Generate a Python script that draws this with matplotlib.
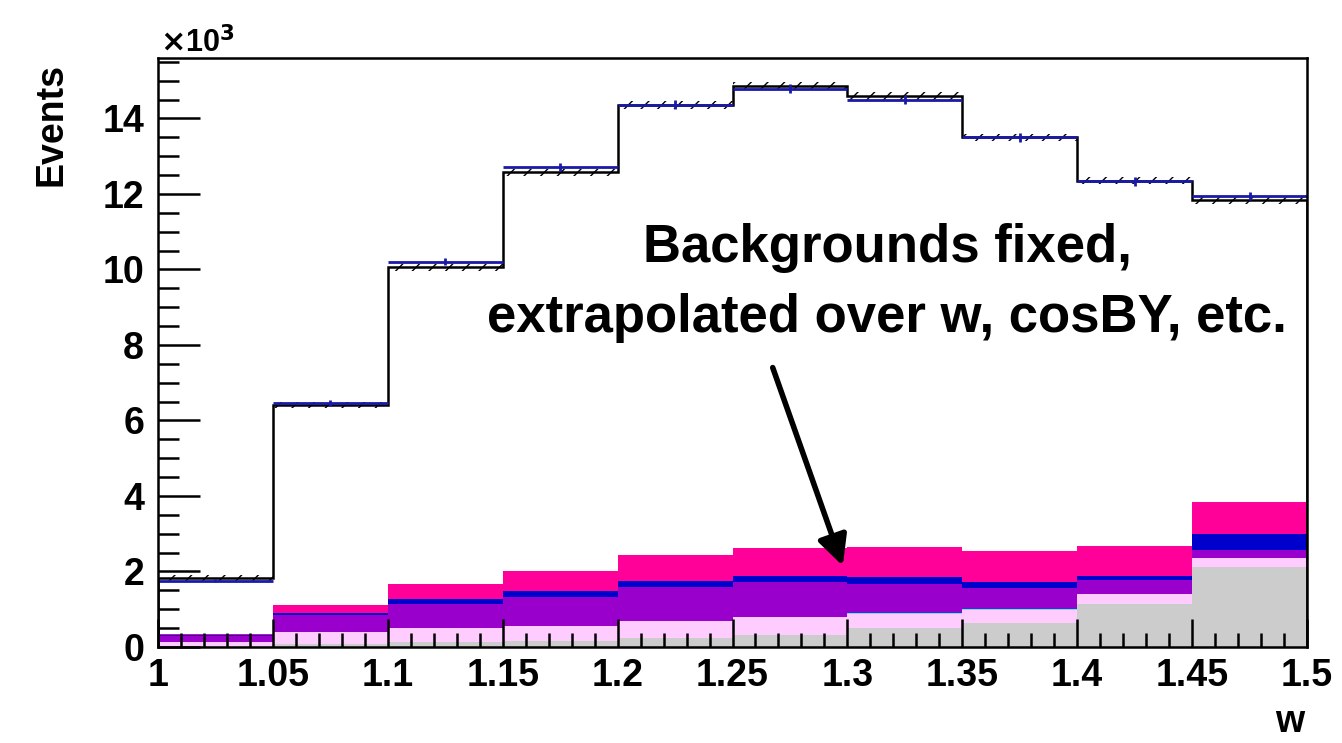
import matplotlib
matplotlib.use("Agg")
import matplotlib.pyplot as plt
from matplotlib.ticker import MultipleLocator, FuncFormatter
import numpy as np

# bin edges in w
edges = [1.0, 1.05, 1.1, 1.15, 1.2, 1.25, 1.3, 1.35, 1.4, 1.45, 1.5]

# all values in units of 10^3 events
mc_total = [1.82, 6.42, 10.06, 12.57, 14.35, 14.86, 14.6, 13.5, 12.35, 11.83]
data = [1.76, 6.45, 10.21, 12.71, 14.36, 14.78, 14.49, 13.5, 12.33, 11.94]
data_err = [0.04, 0.08, 0.1, 0.11, 0.12, 0.12, 0.12, 0.12, 0.11, 0.11]
mc_band = [0.08, 0.08, 0.09, 0.09, 0.1, 0.1, 0.1, 0.1, 0.09, 0.09]

# background components, bottom to top of the stack
bkg_gray = [0.03, 0.09, 0.14, 0.15, 0.25, 0.33, 0.49, 0.63, 1.13, 2.12]
bkg_lightpink = [0.11, 0.32, 0.37, 0.41, 0.44, 0.47, 0.38, 0.35, 0.27, 0.25]
bkg_cyan = [0.0, 0.0, 0.0, 0.0, 0.0, 0.0, 0.02, 0.02, 0.0, 0.0]
bkg_purple = [0.15, 0.44, 0.63, 0.77, 0.91, 0.93, 0.79, 0.55, 0.37, 0.2]
bkg_blue = [0.02, 0.06, 0.13, 0.15, 0.15, 0.16, 0.18, 0.18, 0.12, 0.42]
bkg_hotpink = [0.03, 0.2, 0.41, 0.52, 0.68, 0.72, 0.79, 0.81, 0.78, 0.84]

stack = [
    (bkg_gray, "#cccccc"),
    (bkg_lightpink, "#ffccff"),
    (bkg_cyan, "#33ffff"),
    (bkg_purple, "#9900cc"),
    (bkg_blue, "#0000cc"),
    (bkg_hotpink, "#ff0099"),
]

plt.rcParams["font.family"] = ["Liberation Sans", "DejaVu Sans"]
plt.rcParams["font.weight"] = "bold"
plt.rcParams["hatch.linewidth"] = 1.0

fig = plt.figure(figsize=(13.42, 7.43), dpi=100)
ax = fig.add_axes([158 / 1342, 1 - 647 / 743, 1149 / 1342, 589 / 743])

edges = np.array(edges)
centers = 0.5 * (edges[:-1] + edges[1:])
halfw = 0.5 * np.diff(edges)

# stacked backgrounds
bottom = np.zeros(len(centers))
for vals, col in stack:
    top = bottom + np.array(vals)
    ax.stairs(top, edges, baseline=bottom, fill=True, color=col, lw=0)
    bottom = top

# MC total with hatched band
mc = np.array(mc_total)
band = np.array(mc_band)
ax.stairs(mc + band, edges, baseline=mc - band, fill=True, facecolor="none",
          edgecolor="black", hatch="//", lw=0)
ax.stairs(mc, edges, color="black", lw=1.8, baseline=0)

# data points
ax.errorbar(centers, data, xerr=halfw, yerr=data_err, fmt="none",
            ecolor="#1a1aa8", elinewidth=2, capsize=0)

ax.set_xlim(1.0, 1.5)
ax.set_ylim(0, 15.6)

ax.xaxis.set_major_locator(MultipleLocator(0.05))
ax.xaxis.set_minor_locator(MultipleLocator(0.01))
ax.yaxis.set_major_locator(MultipleLocator(2))
ax.yaxis.set_minor_locator(MultipleLocator(0.5))
ax.xaxis.set_major_formatter(FuncFormatter(lambda v, p: "%g" % round(v, 2)))
ax.yaxis.set_major_formatter(FuncFormatter(lambda v, p: "%d" % round(v)))

ax.tick_params(axis="both", which="both", direction="in", width=1.8,
               labelsize=27, top=False, right=False)
ax.tick_params(axis="y", which="major", length=30, pad=10)
ax.tick_params(axis="y", which="minor", length=15)
ax.tick_params(axis="x", which="major", length=20, pad=8)
ax.tick_params(axis="x", which="minor", length=10)
for lab in ax.get_xticklabels() + ax.get_yticklabels():
    lab.set_fontweight("bold")
for sp in ax.spines.values():
    sp.set_linewidth(1.8)
ax.set_zorder(1)

fig.text(52 / 1342, 1 - 125 / 743, "Events", rotation=90, fontsize=27,
         fontweight="bold", ha="center", va="center")
fig.text(1290 / 1342, 1 - 722 / 743, "w", fontsize=27, fontweight="bold",
         ha="center", va="center")
fig.text(160 / 1342, 1 - 52 / 743, r"$\times$10$^{3}$", fontsize=22,
         ha="left", va="baseline")

# annotation
ax.annotate("", xy=(1.298, 2.15), xytext=(1.2675, 7.4),
            arrowprops=dict(arrowstyle="-|>", color="black", lw=4,
                            mutation_scale=45, shrinkA=0, shrinkB=0))
fig.text(887 / 1342, 1 - 283 / 743,
         "Backgrounds fixed,\nextrapolated over w, cosBY, etc.",
         fontsize=38, fontweight="bold", ha="center", va="center",
         multialignment="center", linespacing=1.5)

fig.savefig("out.png", dpi=100)
